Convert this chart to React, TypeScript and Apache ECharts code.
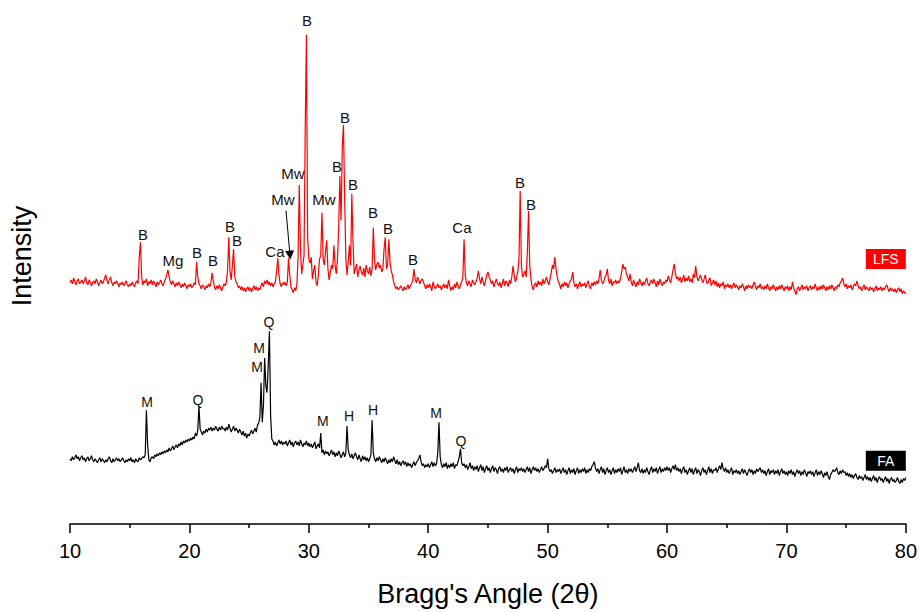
import React, { useEffect, useRef } from "react";
import * as echarts from "echarts";

// 2θ sampling of both patterns
const X_START = 10;
const X_STEP = 0.1;

// LFS pattern (offset upward), one row per degree 2θ
const LFS_VALUES = [
  244,247,243,249,245,242,246,248,243,245,
  247,243,246,250,244,242,247,245,241,244,
  246,243,248,245,241,244,247,243,245,249,
  252,246,243,247,250,244,241,245,243,246,
  243,240,244,242,245,241,243,246,242,240,
  243,241,245,242,240,244,246,243,270,285,
  250,242,246,244,248,241,245,243,247,242,
  246,243,240,245,242,244,247,243,241,245,
  248,252,257,250,245,242,246,243,240,244,
  241,245,242,239,243,240,244,241,238,242,
  240,243,239,241,244,242,265,250,243,241,
  238,242,240,237,241,239,243,240,244,254,
  246,240,237,241,238,242,239,236,240,243,
  241,245,258,290,255,247,262,278,250,245,
  243,239,241,237,240,236,239,235,238,240,
  236,239,235,238,241,237,240,236,239,237,
  241,244,240,246,243,247,242,245,241,244,
  240,243,245,255,269,252,243,240,244,242,
  245,241,244,269,252,240,237,234,239,236,
  242,270,343,280,253,262,272,400,495,290,
  268,264,270,248,256,262,245,241,252,268,
  272,315,268,262,276,287,258,247,255,262,
  258,282,262,253,268,300,352,307,380,404,
  330,268,252,265,282,262,334,285,253,258,
  263,250,257,261,255,252,259,250,262,256,
  253,260,251,258,300,268,257,263,265,259,
  262,255,258,278,290,258,262,288,265,256,
  252,245,241,238,240,237,239,241,238,236,
  240,237,239,242,238,241,243,246,258,248,
  244,250,247,243,246,248,245,241,238,242,
  239,243,240,236,245,241,238,240,243,239,
  241,237,240,243,239,242,238,247,241,236,
  240,237,243,239,245,241,238,242,245,250,
  288,252,244,241,246,243,240,247,244,242,
  245,249,256,248,243,250,245,241,246,252,
  255,250,247,243,246,240,244,248,243,241,
  245,239,243,248,241,246,244,240,247,243,
  250,261,252,245,249,255,268,337,262,250,
  252,256,250,275,317,262,248,240,237,242,
  244,240,246,242,245,241,248,243,246,250,
  245,242,248,254,262,258,270,258,250,245,
  242,238,243,240,245,241,244,239,243,246,
  248,255,244,240,243,238,242,245,240,243,
  241,244,239,243,246,240,238,244,241,245,
  242,246,243,248,257,247,243,245,250,252,
  258,246,243,248,241,245,244,247,243,246,
  244,249,255,263,258,260,253,250,246,253,
  245,241,247,243,240,245,242,248,244,241,
  245,242,246,249,243,241,245,247,243,248,
  244,240,246,242,248,244,241,245,243,247,
  245,251,247,244,250,257,263,254,248,250,
  246,250,244,248,252,245,249,246,251,245,
  248,244,253,249,261,250,246,249,252,247,
  244,248,252,245,243,247,249,241,244,247,
  242,246,240,244,239,243,241,245,238,242,
  240,243,239,242,238,241,244,239,242,240,
  237,241,239,243,240,236,241,238,242,239,
  241,238,242,245,240,237,241,239,243,238,
  240,237,241,238,243,239,236,240,238,242,
  239,236,240,237,241,238,242,239,236,240,
  238,241,236,240,237,245,239,236,232,238,
  240,236,239,242,237,240,238,241,236,239,
  241,237,240,238,243,239,236,240,237,241,
  238,242,239,236,240,237,241,238,242,239,
  236,240,238,242,240,244,246,249,243,240,
  243,238,241,239,242,237,240,243,241,246,
  241,238,240,236,239,242,237,240,238,236,
  240,237,239,235,238,241,236,239,237,240,
  236,239,237,240,242,238,235,239,236,238,
  235,238,234,237,239,235,238,233,236,234,
  233,
];

// FA pattern (bottom), one row per degree 2θ
const FA_VALUES = [
  66,64,68,65,67,70,66,68,64,67,
  69,65,67,63,66,68,64,66,69,65,
  63,66,64,62,65,67,63,66,64,62,
  65,63,66,68,64,62,66,63,65,67,
  64,66,63,65,67,64,62,65,63,66,
  64,67,63,65,62,66,64,63,67,65,
  66,68,67,70,115,80,65,63,67,68,
  66,70,68,71,69,72,70,73,71,74,
  72,75,73,77,74,76,79,75,78,80,
  77,81,79,83,80,84,82,85,83,86,
  84,87,85,88,86,92,89,95,119,96,
  93,90,94,92,96,93,97,95,98,94,
  97,95,99,96,94,98,95,99,96,97,
  94,98,95,101,97,93,96,99,94,97,
  95,92,96,93,90,94,89,92,87,91,
  89,92,95,91,94,97,93,100,102,108,
  143,103,120,168,140,133,160,195,110,86,
  84,80,83,79,82,85,81,84,80,83,
  81,84,79,82,85,80,83,78,82,84,
  80,83,79,85,81,78,82,80,84,79,
  82,78,81,77,80,83,76,79,81,77,
  92,72,75,70,74,71,73,69,72,75,
  70,73,68,72,69,74,71,67,70,73,
  68,72,99,75,70,67,71,66,69,72,
  68,65,70,66,63,69,65,68,64,67,
  63,66,70,105,72,66,63,67,64,68,
  65,62,66,63,67,64,61,65,62,66,
  63,68,64,61,65,60,63,59,62,64,
  60,63,58,62,59,61,57,60,63,59,
  62,64,66,70,63,59,61,57,60,58,
  61,57,60,63,58,62,59,61,72,103,
  68,60,57,61,58,62,56,60,57,61,
  58,62,56,60,59,63,68,76,62,59,
  61,57,60,55,58,62,56,59,54,58,
  55,59,53,57,60,54,58,52,56,59,
  54,57,52,56,59,53,57,55,51,56,
  58,53,56,52,57,54,58,52,55,57,
  53,56,51,55,58,52,56,54,57,53,
  56,52,55,58,53,57,51,55,58,54,
  57,53,56,52,55,58,54,56,59,57,
  66,56,53,55,51,54,57,52,55,53,
  56,51,54,57,52,55,50,54,57,51,
  55,52,56,50,54,57,51,55,52,56,
  53,57,51,55,52,56,54,58,60,63,
  57,53,56,51,55,58,52,56,50,54,
  57,52,55,50,54,57,51,55,52,56,
  53,57,50,54,58,52,55,51,56,53,
  56,52,55,58,53,57,62,54,52,56,
  51,55,52,57,53,50,55,58,52,56,
  53,57,51,55,58,52,56,53,57,54,
  58,54,57,52,56,59,55,60,54,57,
  53,56,51,55,58,52,55,50,54,57,
  52,56,50,54,57,51,55,53,49,54,
  57,52,55,50,54,58,52,56,51,55,
  54,57,52,56,59,55,62,56,53,57,
  52,55,51,54,57,50,54,52,55,51,
  54,50,53,56,51,55,52,49,53,56,
  52,55,50,54,51,56,53,55,57,52,
  55,51,54,49,53,56,50,54,52,55,
  50,54,51,55,49,53,56,51,54,50,
  53,49,54,51,55,50,53,48,52,55,
  51,54,49,53,50,55,52,48,53,51,
  54,50,53,48,52,55,49,53,50,54,
  51,47,52,49,53,48,45,50,52,55,
  53,54,57,52,50,54,51,55,52,53,
  49,52,48,51,47,50,46,49,51,47,
  45,49,46,48,44,47,50,45,48,44,
  47,43,46,49,44,47,42,46,48,44,
  46,42,45,48,43,46,41,45,47,43,
  45,42,44,47,43,41,45,42,46,44,
  47,
];

// Phase annotations: [label, 2θ, intensity]
const LFS_LABELS: [string, number, number][] = [
  ["B", 16.11, 293], ["Mg", 18.62, 267], ["B", 20.63, 275], ["B", 21.97, 267],
  ["B", 23.4, 301], ["B", 23.98, 287], ["Ca", 27.16, 276], ["Mw", 27.83, 328],
  ["Mw", 28.67, 355], ["B", 29.84, 509], ["Mw", 31.27, 328], ["B", 32.36, 362],
  ["B", 33.03, 411], ["B", 33.7, 343], ["B", 35.37, 315], ["B", 36.63, 299],
  ["B", 38.72, 268], ["Ca", 42.82, 300], ["B", 47.68, 345], ["B", 48.6, 323],
];
const FA_LABELS: [string, number, number][] = [
  ["M", 16.45, 123], ["Q", 20.72, 125], ["M", 25.83, 178], ["M", 25.66, 159],
  ["Q", 26.66, 204], ["M", 31.18, 104], ["H", 33.36, 109], ["H", 35.37, 115],
  ["M", 40.65, 112], ["Q", 42.74, 84],
];
// Arrow pointing at the minor Mw peak: [from, to]
const ARROW: [number, number][] = [[28.09, 317], [28.42, 272]];
// Sample tags: [name, 2θ, intensity, colour]
const SAMPLE_TAGS: [string, number, number, string][] = [
  ["LFS", 78.32, 268, "#ff0000"],
  ["FA", 78.32, 64, "#000000"],
];

const FONT = "'Liberation Sans', Arial, sans-serif";

function toPairs(vals: number[]) {
  return vals.map((v, i) => [+(X_START + i * X_STEP).toFixed(1), v]);
}

function labelPoints(labels: [string, number, number][], size: number) {
  return labels.map(([t, x, y]) => ({
    name: t,
    coord: [x, y],
    symbol: "rect",
    symbolSize: 1,
    itemStyle: { color: "rgba(0,0,0,0)" },
    label: {
      show: true,
      formatter: t,
      position: "inside",
      color: "#111",
      fontSize: size,
      fontFamily: FONT,
    },
  }));
}

export default function App() {
  const ref = useRef<HTMLDivElement>(null);
  useEffect(() => {
    if (!ref.current) return;
    const chart = echarts.init(ref.current, null, { renderer: "svg" });
    const tagPoints = SAMPLE_TAGS.map(([t, x, y, c]) => ({
      name: t,
      coord: [x, y],
      symbol: "rect",
      symbolSize: 1,
      itemStyle: { color: "rgba(0,0,0,0)" },
      label: {
        show: true,
        formatter: t,
        position: "inside",
        color: "#fff",
        fontSize: 14,
        fontFamily: FONT,
        backgroundColor: c,
        width: 40,
        height: 20,
        lineHeight: 20,
        align: "center",
        verticalAlign: "middle",
      },
    }));
    chart.setOption({
      animation: false,
      backgroundColor: "#fff",
      textStyle: { fontFamily: FONT },
      grid: { left: 70, right: 14, top: 10, bottom: 82 },
      graphic: [
        {
          type: "text",
          x: 22,
          y: 256,
          rotation: Math.PI / 2,
          style: {
            text: "Intensity",
            fontSize: 27,
            fontFamily: FONT,
            fill: "#000",
            textAlign: "center",
            textVerticalAlign: "middle",
          },
        },
      ],
      xAxis: {
        type: "value",
        min: 10,
        max: 80,
        interval: 10,
        axisLine: { show: true, onZero: false, lineStyle: { color: "#000", width: 1.5 } },
        axisTick: { show: true, length: 9, lineStyle: { color: "#000", width: 1.5 } },
        minorTick: { show: true, splitNumber: 2, length: 4, lineStyle: { color: "#000", width: 1.5 } },
        splitLine: { show: false },
        axisLabel: { fontSize: 20, color: "#000", margin: 17, fontFamily: FONT },
        name: "Bragg's Angle (2θ)",
        nameLocation: "middle",
        nameGap: 56,
        nameTextStyle: { fontSize: 27, color: "#000", fontFamily: FONT },
      },
      yAxis: {
        type: "value",
        min: 0,
        max: 520,
        axisLine: { show: false },
        axisTick: { show: false },
        axisLabel: { show: false },
        splitLine: { show: false },
      },
      series: [
        {
          name: "LFS",
          type: "line",
          data: toPairs(LFS_VALUES),
          showSymbol: false,
          lineStyle: { color: "#ff0000", width: 1.2 },
          itemStyle: { color: "#ff0000" },
          silent: true,
          markPoint: {
            silent: true,
            data: [...labelPoints(LFS_LABELS, 15), tagPoints[0]],
          },
          markLine: {
            silent: true,
            symbol: ["none", "triangle"],
            symbolSize: 9,
            label: { show: false },
            lineStyle: { color: "#000", width: 1, type: "solid" },
            data: [[{ coord: ARROW[0] }, { coord: ARROW[1] }]],
          },
        },
        {
          name: "FA",
          type: "line",
          data: toPairs(FA_VALUES),
          showSymbol: false,
          lineStyle: { color: "#000", width: 1.2 },
          itemStyle: { color: "#000" },
          silent: true,
          markPoint: {
            silent: true,
            data: [...labelPoints(FA_LABELS, 14), tagPoints[1]],
          },
        },
      ],
    });
    return () => chart.dispose();
  }, []);
  return (
    <div
      ref={ref}
      style={{ position: "fixed", left: 0, top: 0, width: 920, height: 612, background: "#fff" }}
    />
  );
}
